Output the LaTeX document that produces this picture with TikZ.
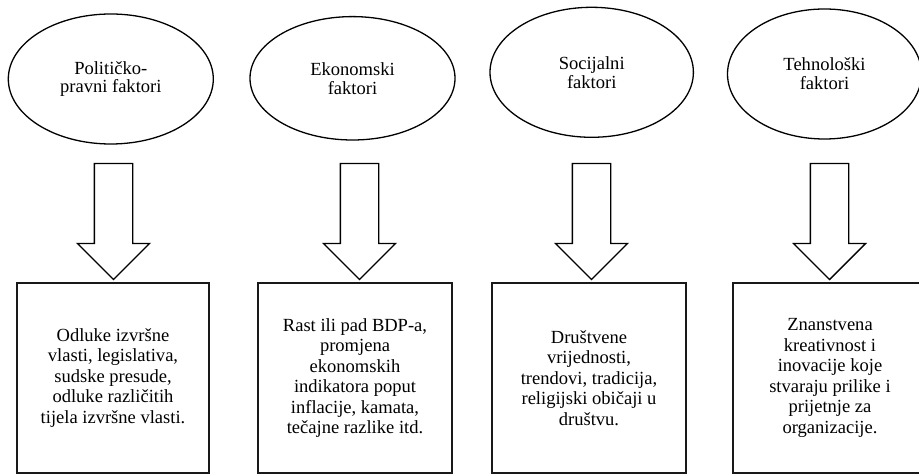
\documentclass[tikz,border=0pt]{standalone}
\usepackage{fontspec}
\setmainfont{Liberation Serif}
\usetikzlibrary{shapes.geometric, shapes.arrows}

\tikzset{
  factor/.style={ellipse, draw, line width=1.3bp, inner sep=0pt, align=center,
    minimum width=205bp, minimum height=130bp, font=\fontsize{18.6}{19}\selectfont},
  desc/.style={rectangle, draw=black!90, line width=2bp, inner sep=0pt, align=center,
    minimum width=194bp, minimum height=190bp, font=\fontsize{18.6}{20.6}\selectfont},
  bigarrow/.style={single arrow, draw, fill=white, line width=1.3bp, rotate=-90,
    inner xsep=0pt, inner ysep=18.5bp, minimum height=116bp, minimum width=71bp,
    single arrow head extend=17bp, single arrow tip angle=90},
}

\begin{document}
\begin{tikzpicture}[line join=miter]
\useasboundingbox (0,0) rectangle (919bp,474bp);
\clip (0,0) rectangle (919bp,474bp);
%%
\node (factor_1) at (110.8bp,395bp) [factor] {Političko-\\pravni faktori};
  \node (factor_2) at (352.5bp,395.7bp) [factor,minimum height=123.4bp] {Ekonomski\\faktori};
  \node (factor_3) at (591.7bp,401.7bp) [factor,minimum width=203.4bp] {Socijalni\\faktori};
  \node (factor_4) at (824.5bp,400bp) [factor,minimum width=194bp] {Tehnološki\\faktori};
  \node (arrow_1) at (113.5bp,262bp) [bigarrow] {};
  \node (arrow_2) at (359.5bp,262bp) [bigarrow] {};
  \node (arrow_3) at (591.5bp,262bp) [bigarrow] {};
  \node (arrow_4) at (829.5bp,262bp) [bigarrow] {};
  \node (desc_1) at (113bp,96bp) [desc,minimum width=192bp] {Odluke izvršne\\vlasti, legislativa,\\sudske presude,\\odluke različitih\\tijela izvršne vlasti.};
  \node (desc_2) at (355bp,96bp) [desc] {Rast ili pad BDP-a,\\promjena\\ekonomskih\\indikatora poput\\inflacije, kamata,\\tečajne razlike itd.};
  \node (desc_3) at (589bp,96bp) [desc] {Društvene\\vrijednosti,\\trendovi, tradicija,\\religijski običaji u\\društvu.};
  \node (desc_4) at (830bp,96bp) [desc] {Znanstvena\\kreativnost i\\inovacije koje\\stvaraju prilike i\\prijetnje za\\organizacije.};
%
\end{tikzpicture}
\end{document}
